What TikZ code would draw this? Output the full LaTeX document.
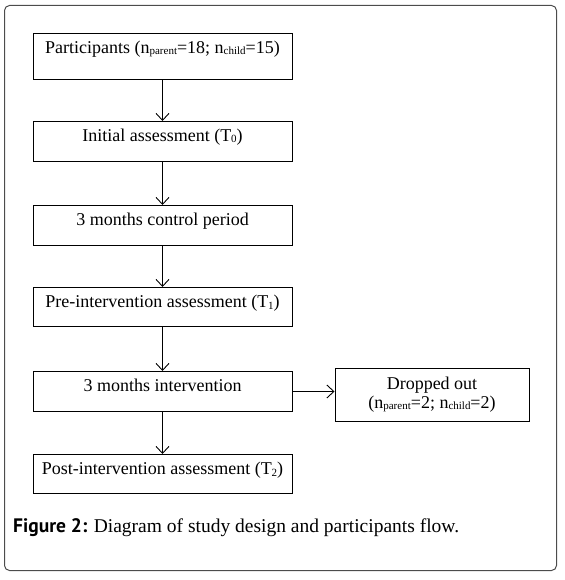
\documentclass[tikz,border=0pt]{standalone}
\usepackage{fontspec}
\setmainfont{Liberation Serif}
\newfontfamily\capsans{PT Sans}
\usetikzlibrary{arrows.meta}
\newcommand\mysub[1]{{\fontsize{11}{11}\selectfont\raisebox{-1.5pt}{#1}}}
\begin{document}
\begin{tikzpicture}[x=1pt,y=-1pt,
  box/.style={draw, line width=1pt, inner xsep=0pt, inner ysep=0pt,
    minimum width=259pt, text height=20pt, anchor=north,
    font=\fontsize{18}{19}\selectfont},
  arr/.style={-{Straight Barb[length=7pt,width=13pt]}, line width=0.9pt}]
\useasboundingbox (0,0) rectangle (564,580);
\draw[rounded corners=5pt, line width=1pt, black!70] (4.5,5.5) rectangle (556.5,570.5);
\node[box, text depth=26pt] (p) at (162.5,33) {Participants (n\mysub{parent}=18; n\mysub{child}=15)};
\node[box, text depth=20pt] (t0) at (162.5,121) {Initial assessment (T\mysub{0})};
\node[box, text depth=20pt] (cp) at (162.5,205) {3 months control period};
\node[box, text depth=19pt] (t1) at (162.5,287) {Pre-intervention assessment (T\mysub{1})};
\node[box, text depth=20pt] (iv) at (162.5,371) {3 months intervention};
\node[box, text depth=19pt] (t2) at (162.5,454) {Post-intervention assessment (T\mysub{2})};
\node[draw, line width=1pt, minimum width=194pt, minimum height=53pt, inner sep=0pt,
  align=center, font=\fontsize{18}{19}\selectfont] (d) at (432,394.5)
  {Dropped out\\(n\mysub{parent}=2; n\mysub{child}=2)};
\draw[arr] (p) -- (t0);
\draw[arr] (t0) -- (cp);
\draw[arr] (cp) -- (t1);
\draw[arr] (t1) -- (iv);
\draw[arr] (iv) -- (t2);
\draw[arr] (iv.east) -- (iv.east -| d.west);
\node[anchor=base west, inner sep=0pt, font=\fontsize{19.5}{21}\selectfont] (cap) at (13,532)
  {{\capsans\bfseries Figure 2:} Diagram of study design and participants flow.};
\end{tikzpicture}
\end{document}
